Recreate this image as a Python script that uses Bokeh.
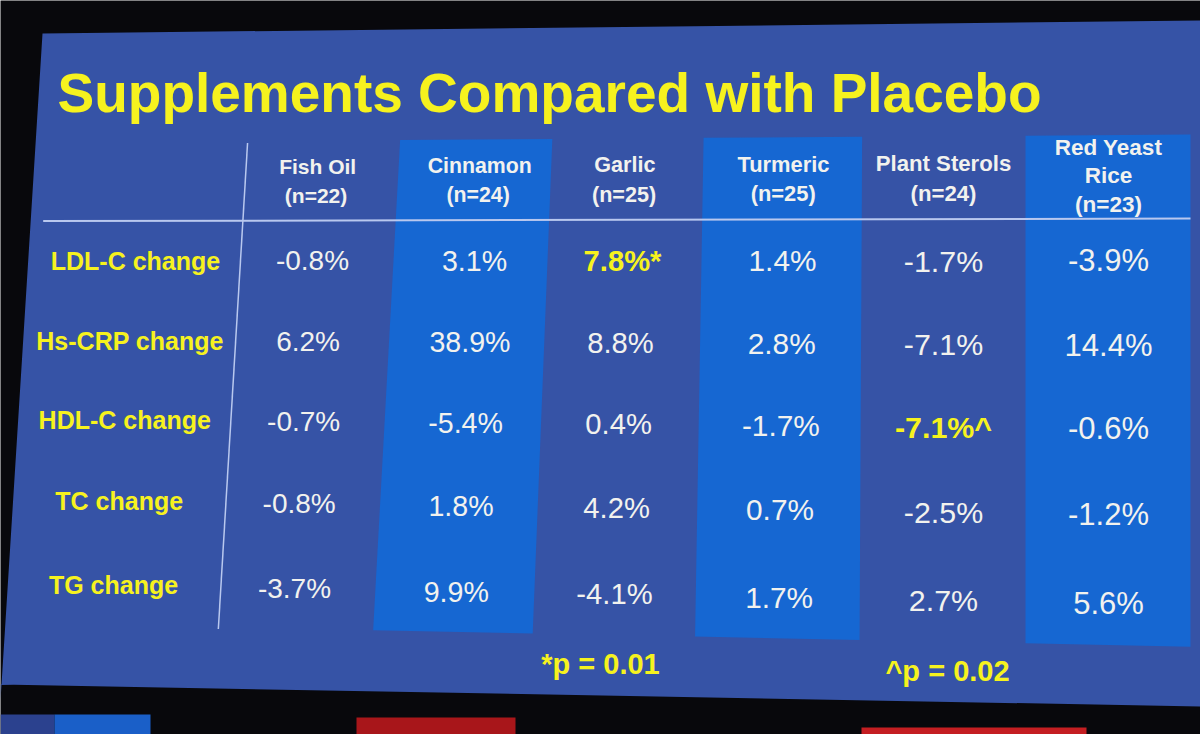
import numpy as np
from bokeh.plotting import figure
from bokeh.models import Range1d, ColumnDataSource
from bokeh.core.properties import value
from bokeh.embed import file_html
from bokeh.resources import INLINE

# ---------------- data ----------------
title_text = "Supplements Compared with Placebo"
supplements = ["Fish Oil", "Cinnamon", "Garlic", "Turmeric", "Plant Sterols", "Red Yeast Rice"]
header_lines = [["Fish Oil", "(n=22)"], ["Cinnamon", "(n=24)"], ["Garlic", "(n=25)"],
                ["Turmeric", "(n=25)"], ["Plant Sterols", "(n=24)"], ["Red Yeast", "Rice", "(n=23)"]]
measures = ["LDL-C change", "Hs-CRP change", "HDL-C change", "TC change", "TG change"]
ldl_c = [-0.8, 3.1, 7.8, 1.4, -1.7, -3.9]
hs_crp = [6.2, 38.9, 8.8, 2.8, -7.1, 14.4]
hdl_c = [-0.7, -5.4, 0.4, -1.7, -7.1, -0.6]
tc = [-0.8, 1.8, 4.2, 0.7, -2.5, -1.2]
tg = [-3.7, 9.9, -4.1, 1.7, 2.7, 5.6]
series = [ldl_c, hs_crp, hdl_c, tc, tg]
# significance marks: (row, column) -> symbol
sig_marks = {(0, 2): "*", (2, 4): "^"}
highlighted = ["Cinnamon", "Turmeric", "Red Yeast Rice"]
footnotes = ["*p = 0.01", "^p = 0.02"]

# ---------------- layout (slide geometry, pixels) ----------------
W, H = 1200, 734
COL_X = [312, 474, 622, 782, 943, 1108]
ROW_Y = [260, 341, 421, 503, 588]
LABEL_X = 135
BOX_X = {"Cinnamon": (393, 547), "Turmeric": (701, 861), "Red Yeast Rice": (1025, 1190)}
BOX_Y = (140, 628)
SHEAR_X = [130, 312, 474, 622, 782, 943]
SHEAR_K = [-0.068, -0.055, -0.055, -0.024, -0.010, 0.0]
FOOT_X = [600, 947]
FOOT_Y = [663, 670]

BG = "#08080c"
SLIDE = "#3653a6"
HILITE = "#1667d2"
YELLOW = "#f6f21e"
WHITE = "#f2f2ee"
LINE = "#b9c8ef"
FONT = value("Liberation Sans")


def warp(x, y):
    x = np.asarray(x, dtype=float)
    y = np.asarray(y, dtype=float)
    k = np.interp(x, SHEAR_X, SHEAR_K)
    s = 1 + 0.045 * (x - 312) / 796
    yy = 260 + (y - 260) * s
    return x + k * (yy - 260), yy


p = figure(width=W, height=H, output_backend="svg", toolbar_location=None,
           x_range=Range1d(0, W), y_range=Range1d(H, 0),
           min_border=0, outline_line_color=None,
           background_fill_color=BG, border_fill_color=BG)
p.xaxis.visible = False
p.yaxis.visible = False
p.xgrid.visible = False
p.ygrid.visible = False

# slide
p.patch([42, 1200, 1200, 0, 0], [33, 20, 706, 684, 700], fill_color=SLIDE, line_color=None)

# bottom strip elements (next slide / screen UI)
p.quad(left=[0, 54, 356, 861], right=[54, 150, 515, 1086],
       top=[714, 714, 717, 727], bottom=[740, 740, 740, 740],
       fill_color=["#2b418e", "#1a5fc8", "#a8161a", "#c41e22"], line_color=None)

# highlighted columns
xs, ys = [], []
for name in highlighted:
    x0, x1 = BOX_X[name]
    cx = [x0, x1, x1, x0]
    cy = [BOX_Y[0], BOX_Y[0], BOX_Y[1], BOX_Y[1]]
    wx, wy = warp(cx, cy)
    xs.append(list(wx))
    ys.append(list(wy))
p.patches(xs, ys, fill_color=HILITE, line_color=None)

# rules
hx, hy = warp([40, 1190], [220, 220])
p.line(list(hx), list(hy), line_color=LINE, line_width=2)
vx, vy = warp([240, 240], [142, 630])
p.line(list(vx), list(vy), line_color=LINE, line_width=1.5)

# title
p.text(x=[57], y=[92], text=[title_text], text_font=FONT, text_font_style="bold",
       text_font_size="55px", text_color=YELLOW, text_align="left",
       text_baseline="alphabetic")

# headers
hx_, hy_, ht, hs = [], [], [], []
for ci, lines in enumerate(header_lines):
    if len(lines) == 3:
        refs = [152, 179, 206]
    else:
        refs = [166, 195]
    for ln, ry in zip(lines, refs):
        wx, wy = warp(COL_X[ci], ry)
        hx_.append(float(wx)); hy_.append(float(wy)); ht.append(ln)
        hs.append(f"{21 + 1.5 * (COL_X[ci] - 312) / 796:.1f}px")
p.text(x="x", y="y", text="t", source=ColumnDataSource(dict(x=hx_, y=hy_, t=ht, s=hs)),
       text_font=FONT, text_font_style="bold", text_font_size="s",
       text_color=WHITE, text_align="center", text_baseline="middle")

# row labels
lx, ly = warp([LABEL_X] * len(measures), ROW_Y)
p.text(x=list(lx), y=list(ly), text=measures, text_font=FONT, text_font_style="bold",
       text_font_size="25px", text_color=YELLOW, text_align="center",
       text_baseline="middle")

# values
norm = dict(x=[], y=[], t=[], s=[])
sig = dict(x=[], y=[], t=[], s=[])
for ri, vals in enumerate(series):
    for ci, v in enumerate(vals):
        wx, wy = warp(COL_X[ci], ROW_Y[ri])
        mark = sig_marks.get((ri, ci))
        label = f"{v:.1f}%" + (mark or "")
        d = sig if mark else norm
        d["x"].append(float(wx)); d["y"].append(float(wy)); d["t"].append(label)
        d["s"].append(f"{28 + 3 * (COL_X[ci] - 312) / 796:.1f}px")
p.text(x="x", y="y", text="t", source=ColumnDataSource(norm), text_font=FONT,
       text_font_size="s", text_color=WHITE, text_align="center", text_baseline="middle")
p.text(x="x", y="y", text="t", source=ColumnDataSource(sig), text_font=FONT,
       text_font_style="bold", text_font_size="s", text_color=YELLOW,
       text_align="center", text_baseline="middle")

# footnotes
p.text(x=FOOT_X, y=FOOT_Y, text=footnotes, text_font=FONT, text_font_style="bold",
       text_font_size="29px", text_color=YELLOW, text_align="center",
       text_baseline="middle")

html = file_html(p, INLINE, title="Supplements Compared with Placebo")
html = html.replace("<body>", '<body style="background:#08080c;">', 1)
open("out.html", "w").write(html)
